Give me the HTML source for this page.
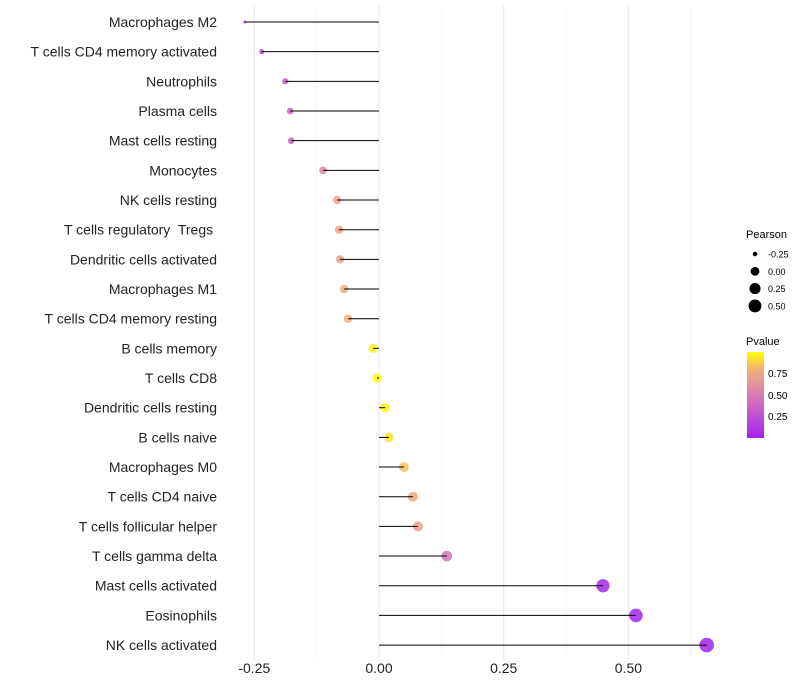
<!DOCTYPE html>
<html><head><meta charset="utf-8"><style>
body{margin:0;background:#fff;font-family:"Liberation Sans",sans-serif}
text{white-space:pre}
</style></head><body>
<svg id="chart" width="800" height="700" style="display:block">
<defs><linearGradient id="pg" x1="0" y1="1" x2="0" y2="0">
<stop offset="0" stop-color="#a020f0"/><stop offset="0.28" stop-color="#c455d0"/><stop offset="0.55" stop-color="#dd85a8"/><stop offset="0.8" stop-color="#f0b078"/><stop offset="1" stop-color="#ffff00"/></linearGradient></defs>
<g id="grid"></g><g id="marks"></g><g id="labels"></g>
<g font-size="10">
<text x="746" y="238" font-size="11">Pearson</text>
<g id="sizeleg"></g>
<text x="746" y="345" font-size="11">Pvalue</text>
<rect x="747" y="352" width="17" height="86" fill="url(#pg)"/>
<text x="768" y="377">0.75</text>
<text x="768" y="399">0.50</text>
<text x="768" y="420">0.25</text>
</g>
</svg>
<script>
const categories=["Macrophages M2","T cells CD4 memory activated","Neutrophils","Plasma cells","Mast cells resting","Monocytes","NK cells resting","T cells regulatory  Tregs ","Dendritic cells activated","Macrophages M1","T cells CD4 memory resting","B cells memory","T cells CD8","Dendritic cells resting","B cells naive","Macrophages M0","T cells CD4 naive","T cells follicular helper","T cells gamma delta","Mast cells activated","Eosinophils","NK cells activated"];
const pearson=[-0.269,-0.235,-0.188,-0.178,-0.176,-0.112,-0.084,-0.080,-0.078,-0.070,-0.062,-0.012,-0.004,0.012,0.020,0.050,0.068,0.078,0.136,0.449,0.515,0.657];
const pvalue=[0.1,0.2,0.35,0.35,0.35,0.58,0.72,0.72,0.72,0.77,0.8,0.97,0.99,0.97,0.94,0.84,0.76,0.72,0.45,0.04,0.02,0.01];
const xTicks=[-0.25,0,0.25,0.5];
const xTickLabels=["-0.25","0.00","0.25","0.50"];
const sizeLegendValues=[-0.25,0,0.25,0.5];
const sizeLegendLabels=["-0.25","0.00","0.25","0.50"];

const NS="http://www.w3.org/2000/svg";
const x=v=>379+v*498.8;
const y=i=>22+i*29.67;
const vmin=Math.min(...pearson),vmax=Math.max(...pearson);
const rad=v=>1.5+5.8*Math.sqrt(Math.max(0,(v-vmin)/(vmax-vmin)));
const stops=[[0,[160,32,240]],[0.28,[196,85,208]],[0.55,[221,133,168]],[0.8,[240,176,120]],[1,[255,255,0]]];
function col(p){for(let k=1;k<stops.length;k++){if(p<=stops[k][0]){const a=stops[k-1],b=stops[k],t=(p-a[0])/(b[0]-a[0]);return 'rgb('+a[1].map((c,j)=>Math.round(c+(b[1][j]-c)*t)).join(',')+')';}}return 'rgb(255,255,0)';}
function mk(tag,attrs,parent){const e=document.createElementNS(NS,tag);for(const k in attrs)e.setAttribute(k,attrs[k]);parent.appendChild(e);return e;}
const grid=document.getElementById('grid'),marks=document.getElementById('marks'),labels=document.getElementById('labels');
[-0.125,0.125,0.375,0.625].forEach(v=>{const l=mk('line',{x1:x(v),x2:x(v),y1:5,y2:660,stroke:'#f0f0f0','stroke-width':0.6},grid);

});
xTicks.forEach((v,i)=>{const l=mk('line',{x1:x(v),x2:x(v),y1:5,y2:660,stroke:'#ebebeb','stroke-width':1.1},grid);


const t=mk('text',{x:x(v),y:673,'text-anchor':'middle','font-size':14,fill:'#222'},labels);t.textContent=xTickLabels[i];

});
categories.forEach((c,i)=>{
const t=mk('text',{x:217,y:y(i)+5,'text-anchor':'end','font-size':14,fill:'#222'},labels);t.textContent=c;


const p=mk('circle',{cx:x(pearson[i]),cy:y(i),r:rad(pearson[i]),fill:col(pvalue[i]),'fill-opacity':0.85},marks);


const s=mk('line',{x1:x(0),x2:x(pearson[i]),y1:y(i),y2:y(i),stroke:'#000','stroke-width':1},marks);

});
const sl=document.getElementById('sizeleg');
sizeLegendValues.forEach((v,i)=>{const cy=254+i*17.3;
const c=mk('circle',{cx:755,cy:cy,r:rad(v)*0.95,fill:'#000'},sl);


const t=mk('text',{x:768,y:cy+3.5,'font-size':9},sl);t.textContent=sizeLegendLabels[i];

});
</script>
</body></html>
